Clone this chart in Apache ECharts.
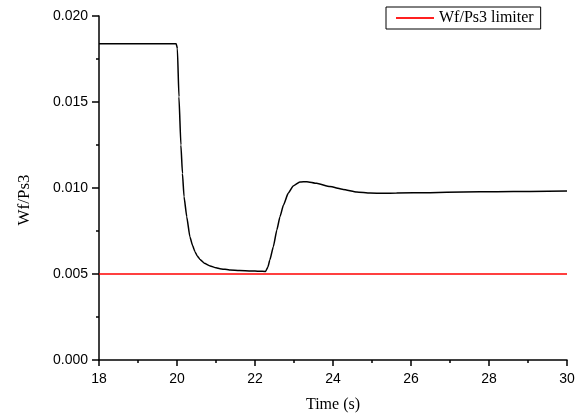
<!DOCTYPE html>
<html>
<head>
<meta charset="utf-8">
<script src="https://cdn.jsdelivr.net/npm/echarts@6/dist/echarts.min.js"></script>
<style>html,body{margin:0;padding:0;background:#fff;}#c{width:584px;height:413px;}</style>
</head>
<body>
<div id="c"></div>
<script>
var timeS = [18, 19.98, 20.01, 20.05, 20.10, 20.14, 20.18, 20.25, 20.33, 20.40, 20.46, 20.52, 20.59, 20.70, 20.85, 21.0, 21.10, 21.36, 21.6, 21.9, 22.1, 22.27, 22.33, 22.38, 22.47, 22.56, 22.64, 22.73, 22.85, 22.98, 23.15, 23.33, 23.58, 23.92, 24.26, 24.61, 24.95, 25.3, 25.63, 26.49, 27.34, 28.20, 29.05, 30];
var wfPs3 = [0.01839, 0.01839, 0.0181, 0.0153, 0.0125, 0.01085, 0.0095, 0.00833, 0.00717, 0.00665, 0.0063, 0.00605, 0.00585, 0.00563, 0.00547, 0.00536, 0.00531, 0.00523, 0.0052, 0.00518, 0.00516, 0.00515, 0.0054, 0.00581, 0.00659, 0.00756, 0.00833, 0.00901, 0.00969, 0.01012, 0.01035, 0.01037, 0.01027, 0.01008, 0.00992, 0.00977, 0.00971, 0.00969, 0.00971, 0.00973, 0.00977, 0.00978, 0.0098, 0.00982];
var limiterTime = [18, 30];
var limiterValue = [0.005, 0.005];
var xTicks = [18, 20, 22, 24, 26, 28, 30];
var yTicks = ['0.000', '0.005', '0.010', '0.015', '0.020'];

var chart = echarts.init(document.getElementById('c'), null, {renderer: 'canvas'});
var mainData = timeS.map(function (t, i) { return [t, wfPs3[i]]; });
var limData = limiterTime.map(function (t, i) { return [t, limiterValue[i]]; });
var axisLine = {show: true, onZero: false, lineStyle: {color: '#000', width: 1.5}};
chart.setOption({
  animation: false,
  backgroundColor: '#fff',
  grid: {left: 99, right: 17, top: 16, bottom: 53, containLabel: false, outerBoundsMode: 'none'},
  legend: {
    show: true,
    data: [{name: 'Wf/Ps3 limiter', icon: 'rect'}],
    left: 386, top: 7,
    padding: [3, 7, 3, 10],
    itemWidth: 38, itemHeight: 2, itemGap: 5,
    borderColor: '#000', borderWidth: 1,
    textStyle: {fontFamily: 'Liberation Serif', fontSize: 16, color: '#000', padding: [2, 0, 2, 0]}
  },
  xAxis: {
    type: 'value', min: 18, max: 30, interval: 2,
    name: 'Time (s)', nameLocation: 'middle', nameGap: 37,
    nameTextStyle: {fontFamily: 'Liberation Serif', fontSize: 16, color: '#000'},
    axisLine: axisLine,
    axisTick: {show: true, inside: false, length: 6, lineStyle: {color: '#000', width: 1.5}},
    minorTick: {show: true, splitNumber: 2, length: 3, lineStyle: {color: '#000', width: 1.5}},
    splitLine: {show: false},
    axisLabel: {fontFamily: 'Liberation Sans', fontSize: 14, color: '#000', margin: 12,
      formatter: function (v) { return xTicks.indexOf(v) >= 0 ? String(v) : ''; }}
  },
  yAxis: {
    type: 'value', min: 0, max: 0.02, interval: 0.005,
    name: 'Wf/Ps3', nameLocation: 'middle', nameGap: 66,
    nameTextStyle: {fontFamily: 'Liberation Serif', fontSize: 17, color: '#000', padding: [0, 24, 0, 0]},
    axisLine: axisLine,
    axisTick: {show: true, inside: false, length: 7, lineStyle: {color: '#000', width: 1.5}},
    minorTick: {show: true, splitNumber: 2, length: 3, lineStyle: {color: '#000', width: 1.5}},
    splitLine: {show: false},
    axisLabel: {fontFamily: 'Liberation Sans', fontSize: 14, color: '#000', margin: 11,
      formatter: function (v) { return yTicks[Math.round(v / 0.005)]; }}
  },
  series: [
    {
      name: 'Wf/Ps3 limiter', type: 'line', data: limData, symbol: 'none',
      lineStyle: {color: '#ff0000', width: 1.5}, itemStyle: {color: '#ff2020'}, z: 3
    },
    {
      name: 'Wf/Ps3', type: 'line', data: mainData, symbol: 'none',
      smooth: 0.15, smoothMonotone: 'x',
      lineStyle: {color: '#000', width: 1.5}, itemStyle: {color: '#000'}, z: 4
    }
  ]
});
</script>
</body>
</html>
